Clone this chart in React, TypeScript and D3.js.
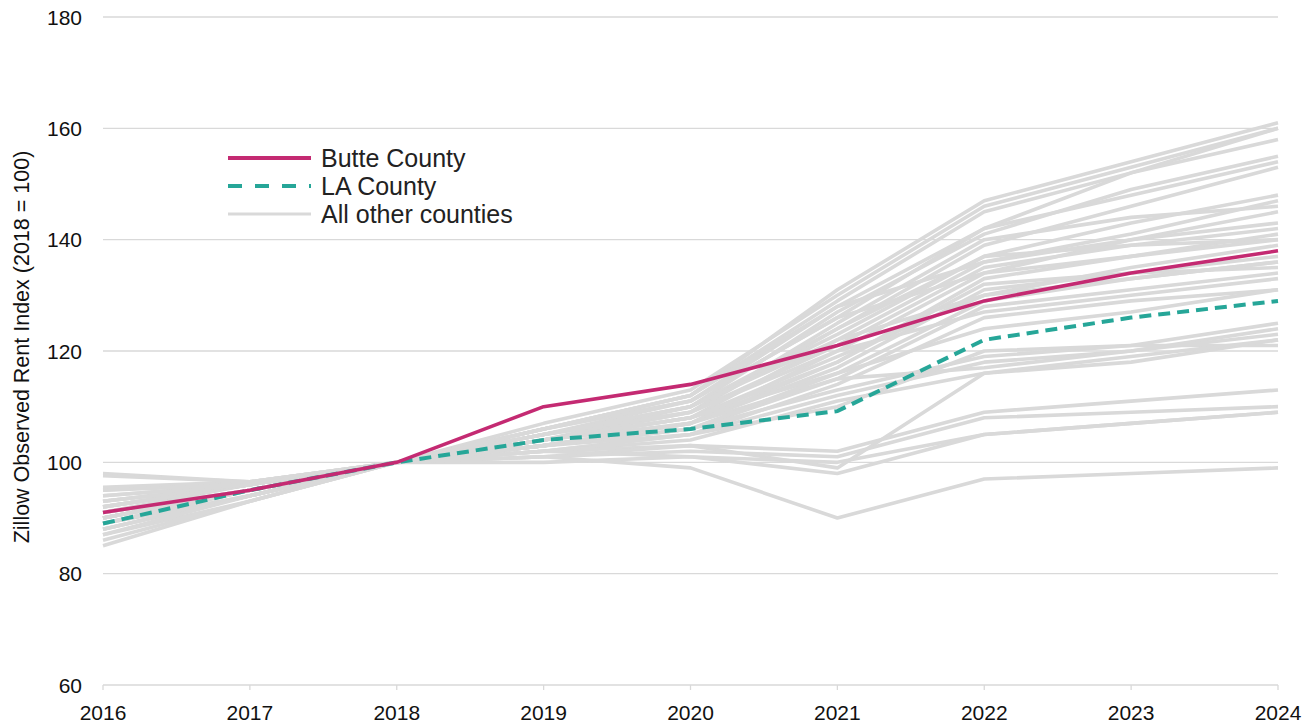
import React from "react";
import * as d3 from "d3";

const years = [2016, 2017, 2018, 2019, 2020, 2021, 2022, 2023, 2024];
const yTicks = [60, 80, 100, 120, 140, 160, 180];

const butte = [91, 95, 100, 110, 114, 121, 129, 134, 138];
const laCounty = [89, 95, 100, 104, 106, 109.2, 122, 126, 129];

const otherCounties: number[][] = [
  [88, 94, 100, 106, 112, 131, 147, 154, 161],
  [89, 95, 100, 107, 113, 130, 146, 153, 160],
  [90, 95, 100, 105, 111, 128, 142, 152, 160],
  [87, 93, 100, 106, 112, 129, 145, 152, 158],
  [91, 96, 100, 105, 110, 127, 141, 149, 155],
  [88, 94, 100, 106, 111, 126, 142, 148, 154],
  [90, 95, 100, 104, 109, 124, 139, 146, 153],
  [89, 95, 100, 105, 110, 123, 137, 143, 148],
  [92, 96, 100, 104, 108, 122, 136, 141, 147],
  [90, 95, 100, 105, 109, 125, 140, 144, 146],
  [91, 95, 100, 103, 107, 120, 134, 140, 145],
  [89, 94, 100, 104, 109, 121, 135, 139, 142],
  [92, 96, 100, 103, 107, 118, 133, 137, 141],
  [90, 95, 100, 104, 108, 119, 130, 135, 139],
  [93, 96, 100, 104, 110, 124, 137, 139, 140],
  [91, 95, 100, 103, 107, 117, 131, 134, 137],
  [90, 95, 100, 104, 108, 116, 129, 133, 136],
  [92, 96, 100, 103, 106, 115, 128, 131, 134],
  [89, 94, 100, 105, 109, 120, 127, 130, 133],
  [93, 96, 100, 102, 105, 114, 126, 129, 131],
  [91, 95, 100, 104, 108, 118, 132, 134, 135],
  [85, 93, 100, 106, 111, 126, 134, 137, 140],
  [86, 93, 100, 105, 110, 122, 130, 133, 136],
  [90, 95, 100, 103, 106, 113, 119, 121, 125],
  [92, 96, 100, 102, 105, 112, 118, 120, 124],
  [88, 94, 100, 104, 107, 115, 117, 120, 123],
  [93, 96, 100, 102, 104, 111, 116, 118, 122],
  [91, 95, 100, 103, 105, 110, 120, 121, 121],
  [94, 96, 100, 102, 103, 99, 116, 119, 122],
  [94, 96, 100, 101, 103, 102, 109, 111, 113],
  [95, 96.5, 100, 101, 102, 101, 108, 109, 110],
  [95.5, 96.5, 100, 102, 101, 100, 105, 107, 109],
  [98, 96.5, 100, 100, 101, 98, 105, 107, 109],
  [97.6, 96.5, 100, 101, 99, 90, 97, 98, 99],
  [87, 94, 100, 106, 112, 128, 136, 140, 143],
  [95, 96, 100, 103, 106, 116, 124, 127, 131],
];

const legendItems = ["Butte County", "LA County", "All other counties"];

const W = 1313;
const H = 725;
const left = 103;
const right = 1278;
const top = 17;
const bottom = 685;

export default function App() {
  const x = d3.scaleLinear().domain([2016, 2024]).range([left, right]);
  const y = d3.scaleLinear().domain([60, 180]).range([bottom, top]);
  const line = d3
    .line<number>()
    .x((_, i) => x(years[i]))
    .y((d) => y(d));

  const font = "'Liberation Sans', Arial, sans-serif";
  const textColor = "#111";
  const gridColor = "#d9d9d9";

  return (
    <svg
      width={W}
      height={H}
      style={{ position: "absolute", left: 0, top: 0, background: "#fff" }}
      fontFamily={font}
    >
      {yTicks.map((t) => (
        <g key={t}>
          <line x1={left} x2={right} y1={y(t)} y2={y(t)} stroke={gridColor} strokeWidth={1.3} />
          <text x={82} y={y(t)} dy="0.36em" textAnchor="end" fontSize={21} fill={textColor}>
            {t}
          </text>
        </g>
      ))}
      {years.map((yr) => (
        <g key={yr}>
          <line x1={x(yr)} x2={x(yr)} y1={bottom} y2={bottom + 5} stroke={gridColor} strokeWidth={1.3} />
          <text x={x(yr)} y={720} textAnchor="middle" fontSize={21} fill={textColor}>
            {yr}
          </text>
        </g>
      ))}
      <text
        transform={`translate(29, 347) rotate(-90)`}
        textAnchor="middle"
        fontSize={21.5}
        fill={textColor}
      >
        Zillow Observed Rent Index (2018 = 100)
      </text>

      {otherCounties.map((s, i) => (
        <path key={i} d={line(s) || ""} fill="none" stroke="#d9d9d9" strokeWidth={3.6} strokeLinejoin="round" />
      ))}
      <path d={line(laCounty) || ""} fill="none" stroke="#26a698" strokeWidth={4} strokeDasharray="12 7" />
      <path d={line(butte) || ""} fill="none" stroke="#c42a72" strokeWidth={3.6} strokeLinejoin="round" />

      {legendItems.map((label, i) => {
        const ly = 158 + i * 28;
        const stroke = i === 0 ? "#c42a72" : i === 1 ? "#26a698" : "#d9d9d9";
        return (
          <g key={label}>
            <line
              x1={228}
              x2={311}
              y1={ly}
              y2={ly}
              stroke={stroke}
              strokeWidth={i === 2 ? 3 : 4}
              strokeDasharray={i === 1 ? "14 13" : undefined}
            />
            <text x={321} y={ly} dy="0.36em" fontSize={25} fill="#222">
              {label}
            </text>
          </g>
        );
      })}
    </svg>
  );
}
